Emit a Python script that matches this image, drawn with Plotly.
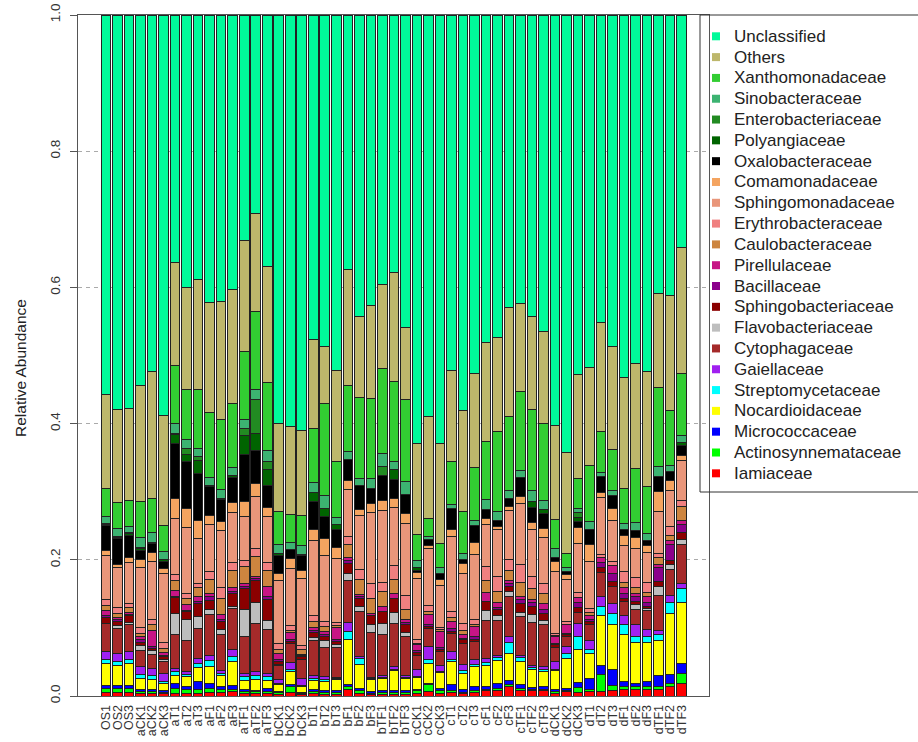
import plotly.graph_objects as go

samples = ["OS1", "OS2", "OS3", "aCK1", "aCK2", "aCK3", "aT1", "aT2", "aT3", "aF1", "aF2", "aF3",
           "aTF1", "aTF2", "aTF3", "bCK1", "bCK2", "bCK3", "bT1", "bT2", "bT3", "bF1", "bF2", "bF3",
           "bTF1", "bTF2", "bTF3", "cCK1", "cCK2", "cCK3", "cT1", "cT2", "cT3", "cF1", "cF2", "cF3",
           "cTF1", "cTF2", "cTF3", "dCK1", "dCK2", "dCK3", "dT1", "dT2", "dT3", "dF1", "dF2", "dF3",
           "dTF1", "dTF2", "dTF3"]

# relative abundance of each family per sample (stack order: bottom -> top)
iamiaceae = [.005, .005, .005, .004, .003, .003, .003, .004, .004, .0049,
             .0049, .0064, .003, .003, .003, .002, .0049, .0015, .003, .002,
             .002, .0098, .003, .002, .002, .002, .002, .004, .0064, .004,
             .0049, .003, .0049, .0078, .0088, .0137, .0088, .0078, .0078, .004,
             .0064, .0049, .0064, .0064, .0078, .0098, .0098, .0098, .0098, .0137, .0186]
actinosynnemataceae = [.006, .006, .0067, .003, .004, .002, .0083, .0058, .0058, .0064,
                       .0049, .0034, .0034, .0034, .0034, .003, .0088, .002, .0034, .003,
                       .003, .0039, .0045, .002, .003, .0028, .0028, .0034, .0098, .0039,
                       .0029, .0028, .0029, .002, .0025, .0025, .0025, .002, .002, .0024,
                       .0015, .0073, .0034, .0244, .0069, .0039, .0039, .0039, .0039, .0049, .0147]
micrococcaceae = [.004, .0045, .0033, .003, .002, .003, .0073, .0039, .0112, .0073,
                  .0039, .0049, .0034, .0024, .0044, .0015, .0025, .0014, .0034, .0028,
                  .0028, .0025, .0038, .0024, .0028, .003, .003, .0024, .0024, .0034,
                  .0084, .003, .0059, .0039, .0073, .0073, .0049, .0024, .0039, .0034,
                  .0034, .0074, .0161, .0133, .0245, .0073, .0049, .0073, .0157, .0137, .0147]
nocardioidaceae = [.033, .029, .032, .016, .0157, .011, .0122, .0147, .0211, .0245,
                   .0157, .0357, .0127, .0157, .0127, .0098, .0195, .0088, .0127, .0133,
                   .0167, .067, .0342, .0181, .0182, .0294, .0181, .0172, .0294, .023,
                   .0343, .0245, .0294, .0318, .0333, .0392, .0342, .026, .022, .0274,
                   .044, .0489, .0358, .0734, .0651, .070, .0597, .0573, .0519, .0891, .0905]
streptomycetaceae = [.006, .0055, .007, .005, .005, .0024, .0049, .0039, .0059, .0098,
                     .0039, .0074, .0059, .0063, .0049, .0015, .0035, .0015, .0034, .0024,
                     .001, .0113, .0083, .0015, .0014, .002, .0015, .0014, .0049, .0014,
                     .0024, .0039, .0024, .0034, .0049, .0156, .0064, .004, .0035, .001,
                     .0074, .0196, .0068, .0137, .0171, .0147, .0088, .0098, .0083, .0156, .0196]
gaiellaceae = [.012, .013, .011, .012, .010, .0113, .0049, .0034, .0073, .0073,
               .0039, .0097, .0049, .0049, .0049, .0068, .0097, .0107, .0049, .0049,
               .0024, .0132, .003, .0014, .002, .004, .002, .0108, .0195, .0088,
               .0122, .0093, .0074, .0064, .0034, .0098, .0034, .0033, .0039, .0127,
               .0097, .0186, .0137, .0147, .0147, .0118, .0172, .0098, .0063, .0113, .0073]
cytophagaceae = [.040, .036, .040, .0245, .021, .0186, .049, .0465, .0441, .0602,
                 .0524, .060, .0538, .071, .0646, .0196, .0275, .027, .0504, .0426,
                 .043, .0626, .0656, .0656, .0612, .0636, .0577, .0196, .027, .0211,
                 .027, .0308, .0269, .0558, .0514, .0578, .0563, .0622, .0612, .0205,
                 .0147, .0171, .0235, .0342, .0254, .021, .023, .0274, .0524, .0377, .0578]
flavobacteriaceae = [.001, .004, .003, .006, .0064, .002, .0318, .0304, .0171, .0069,
                     .0073, .0039, .0392, .0303, .0137, .0015, 0, .001, .0049, .0098,
                     .0049, .0098, .0063, .0127, .0161, .0157, .0059, 0, 0, 0,
                     0, 0, 0, .0147, .0073, .0073, .0059, .0127, .0073, 0,
                     0, 0, 0, 0, 0, 0, .0064, .0034, .0122, .0078, .0068]
sphingobacteriaceae = [.009, .007, .010, .0054, .003, .0049, .0236, .0113, .0196, .0137,
                       .0122, .0186, .0318, .0333, .0294, .0049, .0034, .0035, .0069, .0063,
                       .0039, .0147, .0123, .0132, .0171, .021, .0113, .0049, .0024, .0029,
                       .0024, .0049, .0034, .0137, .0074, .0073, .0127, .0108, .0098, .0039,
                       .0029, .0073, .0034, .0074, .0064, .0049, .0048, .0025, .0074, .0049, .0113]
bacillaceae = [.002, .003, .001, .0034, .003, .002, .0018, .0024, .0024, .0049,
               .0025, .0034, .0024, .0025, .0049, .0025, .0034, .0015, .0039, .0025,
               .0035, .0049, .002, 0, 0, 0, .0035, .0024, .0039, .0029,
               .0039, .002, .0039, 0, .0039, .004, .0059, .0059, .0049, .002,
               .002, .0073, .0035, .0073, .0122, .0073, .0073, .0059, .021, .0245, .0113]
pirellulaceae = [.007, .003, .004, .005, .0235, .003, .0079, .0074, .0074, .0049,
                 .0083, .0049, .0049, .0024, .0146, .0098, .0093, .0023, .0039, .0049,
                 .0171, .0039, .0029, .0025, .0074, .0064, .0038, .0088, .0147, .0235,
                 .0108, .0058, .0147, .0137, .0068, .0049, .0049, .0039, .0098, .0093,
                 .0123, .0074, .0063, .0073, .0122, .0089, .0049, .0088, .0049, .0049, .0068]
caulobacteraceae = [.008, .0055, .007, .005, .0084, .0073, .0156, .0098, .0132, .0205,
                    .0235, .0245, .0246, .0294, .0235, .0058, .0035, .0073, .0093, .0074,
                    .0034, .0196, .022, .022, .022, .0215, .0147, .002, .0034, .002,
                    .0059, .0059, .0024, .0166, .0162, .0146, .0205, .0171, .0147, .0015,
                    0, 0, .0034, 0, 0, .0068, .0088, .0058, .0098, .0083, .0196]
erythrobacteraceae = [.008, .008, .006, .009, .0073, .0083, .0088, .0074, .0063, .0113,
                      .0156, .0122, .0097, .0122, .0118, .0088, .0073, .0059, .0074, .0073,
                      .004, .0108, .0147, .022, .0132, .0196, .022, .0064, .0098, .0039,
                      .0088, .0098, .0079, .0211, .022, .0167, .0274, .0171, .0147, .0034,
                      .0049, .0073, .0064, .0049, .005, .0162, .0147, .0147, .0059, .0132, .0098]
sphingomonadaceae = [.066, .059, .060, .087, .0857, .1008, .0818, .0969, .0661, .070,
                     .0832, .0734, .0636, .0759, .0675, .093, .0842, .0979, .1106, .0969,
                     .0954, .0695, .0768, .1038, .1067, .0861, .1043, .0896, .0832, .0612,
                     .1101, .0734, .0955, .0621, .0695, .0715, .0889, .0686, .0675, .0915,
                     .0621, .072, .0686, .0833, .0611, .0391, .0425, .0441, .0612, .0519, .0587]
comamonadaceae = [.007, .0045, .0066, .013, .0132, .0084, .0294, .0279, .0269, .0132,
                  .0137, .0137, .0221, .0196, .0137, .0098, .0137, .0113, .0157, .0245,
                  .0157, .0127, .0098, .0137, .0147, .0133, .0147, .0083, .0035, .0083,
                  .0098, .0147, .0171, .0079, .0049, .0068, .0098, .0107, .0132, .0137,
                  .0064, .0235, .0259, .0073, .0172, .0133, .0162, .0098, .0293, .0147, .0064]
oxalobacteraceae = [.037, .038, .033, .013, .0122, .0098, .0807, .0685, .0686, .0426,
                    .0319, .0377, .0685, .0489, .0328, .0267, .0137, .022, .0416, .0328,
                    .0259, .0313, .0343, .0221, .0367, .0269, .0279, .0034, .0088, .0088,
                    .0308, .0049, .0245, .0132, .0079, .0113, .0284, .0225, .022, .0059,
                    .0049, .0097, .0206, .0235, .0181, .0088, .0098, .0078, .0221, .0132, .0161]
polyangiaceae = [.001, .002, .003, .002, .0025, .0024, .0125, .0098, .0195, .001,
                 .0015, .0024, .0291, .0245, .0232, .0024, 0, .0024, .0132, .0112,
                 .0083, 0, 0, 0, 0, .0147, 0, .0039, 0, 0,
                 0, 0, 0, 0, 0, 0, 0, .0084, .0059, 0,
                 0, .0059, 0, 0, 0, 0, 0, 0, 0, 0, .0039]
enterobacteriaceae = [.001, .001, .002, .0014, 0, 0, .0022, .0098, .0049, 0,
                      0, 0, .010, .0499, .0111, 0, 0, 0, 0, 0,
                      0, 0, 0, 0, .0123, 0, 0, 0, 0, 0,
                      0, 0, 0, 0, 0, 0, 0, 0, 0, 0,
                      0, .0064, 0, 0, 0, 0, 0, 0, 0, 0, 0]
sinobacteraceae = [.010, .012, .0077, .0147, .0146, .0122, .0147, .0122, .0123, .0112,
                   .0132, .0123, .0133, .0152, .0171, .0133, .0108, .0123, .0147, .0196,
                   .0098, .0113, .0098, .0146, .0195, .0122, .0195, .0108, .0058, .0098,
                   .0059, .0098, .0083, .0147, .0132, .0112, .0108, .0161, .0137, .0127,
                   .0063, .0059, .0122, .0049, .0078, .0088, .0117, .0108, .0147, .0098, .0098]
xanthomonadaceae = [.042, .038, .039, .054, .049, .0377, .0846, .0734, .0861, .0954,
                    .1028, .0925, .1003, .1136, .0994, .0489, .0401, .0441, .0798, .1341,
                    .0832, .0969, .1165, .1175, .1249, .1175, .1209, .0382, .026, .0353,
                    .0627, .0612, .0774, .0856, .1173, .1082, .115, .119, .1125, .0426,
                    .0206, .045, .0832, .0607, .0607, .0523, .0798, .0685, .1165, .0798, .0916]
others = [.138, .137, .1345, .170, .188, .1624, .151, .1507, .1622, .163,
          .1732, .1671, .162, .1446, .1704, .1298, .130, .1248, .1309, .0833,
          .1334, .1708, .1162, .1369, .1233, .1604, .1053, .1321, .1491, .1468,
          .1341, .1474, .1372, .147, .139, .1613, .1301, .1375, .1347, .1381,
          .1485, .1527, .1438, .1584, .1508, .1621, .1537, .1694, .1377, .169, .1856]
unclassified = [.557, .579, .5775, .5443, .5232, .588, .364, .400, .388, .422,
                .4205, .401, .3314, .291, .369, .601, .604, .6094, .476, .486,
                .524, .3735, .435, .426, .3955, .378, .459, .629, .590, .628,
                .5203, .577, .526, .482, .473, .429, .423, .442, .465, .601,
                .642, .5316, .517, .450, .487, .533, .512, .5232, .409, .412, .343]

families = ["Iamiaceae", "Actinosynnemataceae", "Micrococcaceae", "Nocardioidaceae",
            "Streptomycetaceae", "Gaiellaceae", "Cytophagaceae", "Flavobacteriaceae",
            "Sphingobacteriaceae", "Bacillaceae", "Pirellulaceae", "Caulobacteraceae",
            "Erythrobacteraceae", "Sphingomonadaceae", "Comamonadaceae", "Oxalobacteraceae",
            "Polyangiaceae", "Enterobacteriaceae", "Sinobacteraceae", "Xanthomonadaceae",
            "Others", "Unclassified"]
series = [iamiaceae, actinosynnemataceae, micrococcaceae, nocardioidaceae,
          streptomycetaceae, gaiellaceae, cytophagaceae, flavobacteriaceae,
          sphingobacteriaceae, bacillaceae, pirellulaceae, caulobacteraceae,
          erythrobacteraceae, sphingomonadaceae, comamonadaceae, oxalobacteraceae,
          polyangiaceae, enterobacteriaceae, sinobacteraceae, xanthomonadaceae,
          others, unclassified]
colors = ["#FF0000", "#00FF00", "#0000FF", "#FFFF00", "#00FFFF", "#A020F0", "#A52A2A",
          "#BEBEBE", "#8B0000", "#8B008B", "#C71585", "#CD853F", "#F08080", "#E9967A",
          "#F4A460", "#000000", "#006400", "#228B22", "#3CB371", "#32CD32", "#BDB76B",
          "#00FA9A"]

FONT = "Liberation Sans, Arial, Helvetica, sans-serif"
W, H = 918, 742
L, R, T, B = 78, 209, 15, 46
PW, PH = W - L - R, H - T - B


def px_x(x):
    return (x - L) / PW


def px_y(y):
    return (H - B - y) / PH


fig = go.Figure()
for name, vals, col in zip(families, series, colors):
    fig.add_trace(go.Bar(
        x=samples, y=vals, name=name,
        marker=dict(color=col, line=dict(color="#222222", width=1)),
        showlegend=False,
    ))

# legend panel drawn as a boxed list of swatches and names (top entry = top of stack)
shapes = [dict(type="rect", xref="paper", yref="paper",
               x0=px_x(700), x1=px_x(935), y0=px_y(492), y1=px_y(15),
               line=dict(color="#333333", width=1), fillcolor="rgba(0,0,0,0)")]
annotations = []
for i, (name, col) in enumerate(zip(families[::-1], colors[::-1])):
    yc = 36.3 + 20.81 * i
    shapes.append(dict(type="rect", xref="paper", yref="paper",
                       x0=px_x(712), x1=px_x(720), y0=px_y(yc + 4), y1=px_y(yc - 4),
                       line=dict(width=0), fillcolor=col))
    annotations.append(dict(text=name, xref="paper", yref="paper",
                            x=px_x(732), y=px_y(yc), xanchor="left", yanchor="middle",
                            showarrow=False, font=dict(family=FONT, size=17, color="#222222")))

annotations.append(dict(text="Relative Abundance", xref="paper", yref="paper",
                        x=px_x(20), y=px_y(368), textangle=-90, showarrow=False,
                        xanchor="center", yanchor="middle",
                        font=dict(family=FONT, size=15.5, color="#222222")))

fig.update_layout(
    width=W, height=H,
    margin=dict(l=L, r=R, t=T, b=B, pad=0, autoexpand=False),
    barmode="stack", barnorm="fraction", bargap=0.2 / 1.2,
    paper_bgcolor="white", plot_bgcolor="white",
    font=dict(family=FONT, color="#222222"),
    shapes=shapes, annotations=annotations,
    xaxis=dict(type="category", range=[-2.44, 52.38], tickangle=-90,
               tickmode="array", tickvals=samples, ticktext=samples,
               tickfont=dict(size=12.5, color="#333333"), ticks="",
               ticklabelstandoff=3,
               showline=True, mirror=True, linecolor="#555555", linewidth=1,
               showgrid=False, zeroline=False, fixedrange=True, automargin=False),
    yaxis=dict(range=[0, 1], tickvals=[0, 0.2, 0.4, 0.6, 0.8, 1.0],
               ticktext=["0.0", "0.2", "0.4", "0.6", "0.8", "1.0"],
               tickangle=-90, tickfont=dict(size=13.5, color="#333333"),
               ticks="outside", ticklen=7, tickcolor="#555555",
               ticklabelstandoff=5,
               showline=True, mirror=True, linecolor="#555555", linewidth=1,
               showgrid=True, gridcolor="#AAAAAA", griddash="4px,4px", gridwidth=1,
               zeroline=False, fixedrange=True, automargin=False),
)

fig.write_html("out.html")
